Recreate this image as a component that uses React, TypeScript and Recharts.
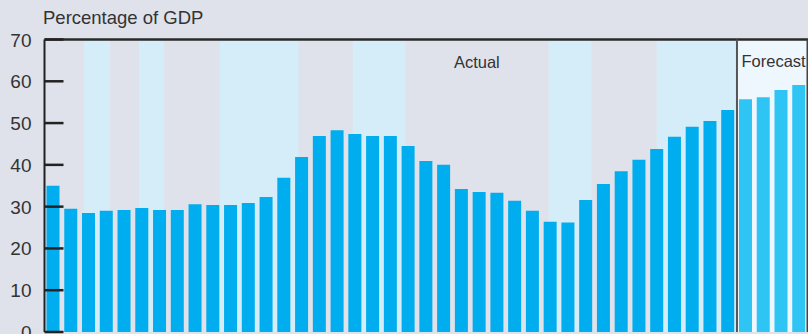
import { BarChart, Bar, Cell, XAxis, YAxis, ReferenceArea, ReferenceLine, ReferenceDot } from "recharts";

// values, % of GDP
const actualValues = [
  35, 29.5, 28.5, 29, 29.2, 29.7, 29.2, 29.2, 30.6, 30.4, 30.4, 30.9, 32.3, 36.9, 41.9, 46.9, 48.3, 47.4, 46.9, 46.9,
  44.5, 40.9, 40.0, 34.2, 33.5, 33.3, 31.4, 29.0, 26.4, 26.2, 31.6, 35.4, 38.5, 41.2, 43.8, 46.7, 49.1, 50.5, 53.1,
];
const forecastValues = [55.7, 56.2, 57.9, 59.1];
const yTicks = [0, 10, 20, 30, 40, 50, 60, 70];

// shaded periods, in bar slots from the left edge
const shadedStart = [2.22, 5.32, 9.88, 17.36, 28.39, 34.47];
const shadedEnd = [3.69, 6.72, 14.32, 20.34, 30.81, 39];

const font = '"Liberation Sans", Arial, Helvetica, sans-serif';
const ink = "#333";

const data = [
  ...actualValues.map((v, i) => ({ period: i + 1, slot: i + 0.5, value: v, forecast: false })),
  ...forecastValues.map((v, i) => ({ period: actualValues.length + i + 1, slot: actualValues.length + i + 0.5, value: v, forecast: true })),
];
const forecastStart = actualValues.length;
const total = data.length;

const YTick = ({ x, y, payload }: any) => (
  <g>
    <line x1={x} x2={x + 19} y1={y} y2={y} stroke="#222" strokeWidth={2.5} />
    <text x={x - 13} y={y + 7} textAnchor="end" fontSize={19} fill={ink} fontFamily={font}>
      {payload.value}
    </text>
  </g>
);

const App = () => (
  <div style={{ position: "absolute", left: 0, top: 0, width: 808, height: 334, background: "#dfe2eb", overflow: "hidden" }}>
    <div style={{ position: "absolute", left: 43, top: 8.6, fontSize: 18.5, lineHeight: "18.5px", color: ink, fontFamily: font, whiteSpace: "nowrap" }}>
      Percentage of GDP
    </div>
    <BarChart width={808} height={334} data={data} margin={{ top: 39.5, right: 0, bottom: 2, left: 0 }} barSize={13}>
      <XAxis dataKey="period" height={0} tick={false} tickLine={false} axisLine={{ stroke: "#222", strokeWidth: 2 }} />
      <XAxis xAxisId="t" dataKey="slot" type="number" domain={[0, total]} allowDataOverflow hide />
      <YAxis
        width={44.5}
        domain={[0, 70]}
        ticks={yTicks}
        interval={0}
        tickSize={0}
        tickMargin={0}
        tickLine={false}
        tick={<YTick />}
        axisLine={{ stroke: "#222", strokeWidth: 2 }}
      />
      {shadedStart.map((s, i) => (
        <ReferenceArea key={i} xAxisId="t" x1={s} x2={shadedEnd[i]} y1={0} y2={70} fill="#d5ecf9" fillOpacity={1} stroke="none" />
      ))}
      <ReferenceArea xAxisId="t" x1={forecastStart} x2={total} y1={0} y2={70} fill="#eef7fd" fillOpacity={1} stroke="none" />
      <Bar dataKey="value" isAnimationActive={false}>
        {data.map((d, i) => (
          <Cell key={i} fill={d.forecast ? "#2ec4f4" : "#00adee"} />
        ))}
      </Bar>
      <ReferenceLine y={70} stroke="#2a2a2a" strokeWidth={2.5} />
      <ReferenceLine xAxisId="t" x={forecastStart} stroke="#555" strokeWidth={2} />
      <ReferenceLine xAxisId="t" x={total} stroke="#444" strokeWidth={3} />
      <ReferenceDot
        xAxisId="t"
        x={24.35}
        y={64.5}
        r={0}
        fill="none"
        stroke="none"
        label={{ value: "Actual", position: "center", fontSize: 16.5, fill: ink, fontFamily: font }}
      />
      <ReferenceDot
        xAxisId="t"
        x={41.06}
        y={64.75}
        r={0}
        fill="none"
        stroke="none"
        label={{ value: "Forecast", position: "center", fontSize: 16.5, fill: ink, fontFamily: font }}
      />
    </BarChart>
  </div>
);

export default App;
